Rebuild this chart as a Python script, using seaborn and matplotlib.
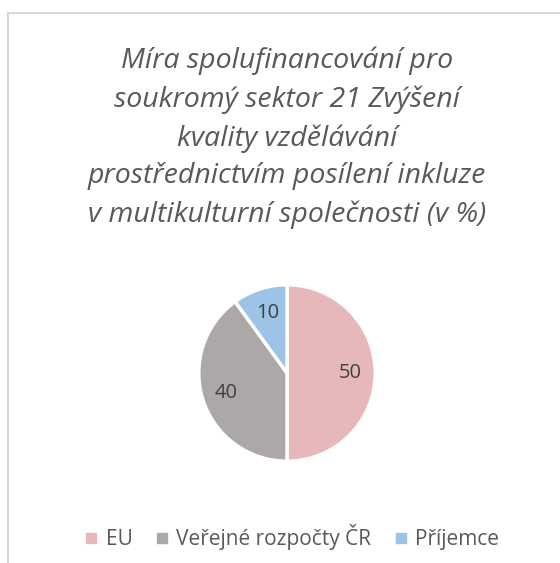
import matplotlib
matplotlib.use("Agg")
import matplotlib.pyplot as plt
import seaborn as sns
from matplotlib.patches import Rectangle
from matplotlib.lines import Line2D

# Daten
kategorie = ["EU", "Veřejné rozpočty ČR", "Příjemce"]
hodnoty = [50, 40, 10]
barvy = ["#E6B8BA", "#ABA8A7", "#9DC3E6"]
nazev = ("Míra spolufinancování pro\nsoukromý sektor 21 Zvýšení\nkvality vzdělávání\n"
         "prostřednictvím posílení inkluze\nv multikulturní společnosti (v %)")

sns.set_theme(style="white")
plt.rcParams["font.family"] = ["Open Sans", "DejaVu Sans"]

W, H = 560, 563
fig = plt.figure(figsize=(W / 100, H / 100), dpi=100)

# Rahmen des Diagrammbereichs
fig.patches.append(Rectangle((8 / W, -0.05), 1.2, 1 - 13 / H + 0.05, transform=fig.transFigure,
                             fill=False, edgecolor="#D9D9D9", linewidth=1.5))

# Titel
fig.text(287 / W, 1 - 138 / H, nazev, ha="center", va="center", style="italic",
         fontsize=20.5, color="#595959", linespacing=1.47)

# Kreisdiagramm
cx, cy, r = 287, 373, 90
ax = fig.add_axes([(cx - r) / W, (H - cy - r) / H, 2 * r / W, 2 * r / H])
wedges, texts, autotexts = ax.pie(hodnoty, colors=barvy, startangle=90, counterclock=False,
                                  autopct=lambda p: f"{p:.0f}", pctdistance=0.72,
                                  wedgeprops=dict(edgecolor="white", linewidth=2.5),
                                  textprops=dict(fontsize=14.5, color="#404040"))
ax.set_xlim(-1.02, 1.02)
ax.set_ylim(-1.02, 1.02)

# Legende
handles = [Line2D([], [], marker="s", linestyle="", markersize=6.5, color=c) for c in barvy]
fig.legend(handles, kategorie, loc="center", bbox_to_anchor=(290 / W, 1 - 537 / H), ncol=3,
           frameon=False, fontsize=15, labelcolor="#595959", handletextpad=0.2,
           columnspacing=0.9, handlelength=1.0)

fig.savefig("out.png", dpi=100)
